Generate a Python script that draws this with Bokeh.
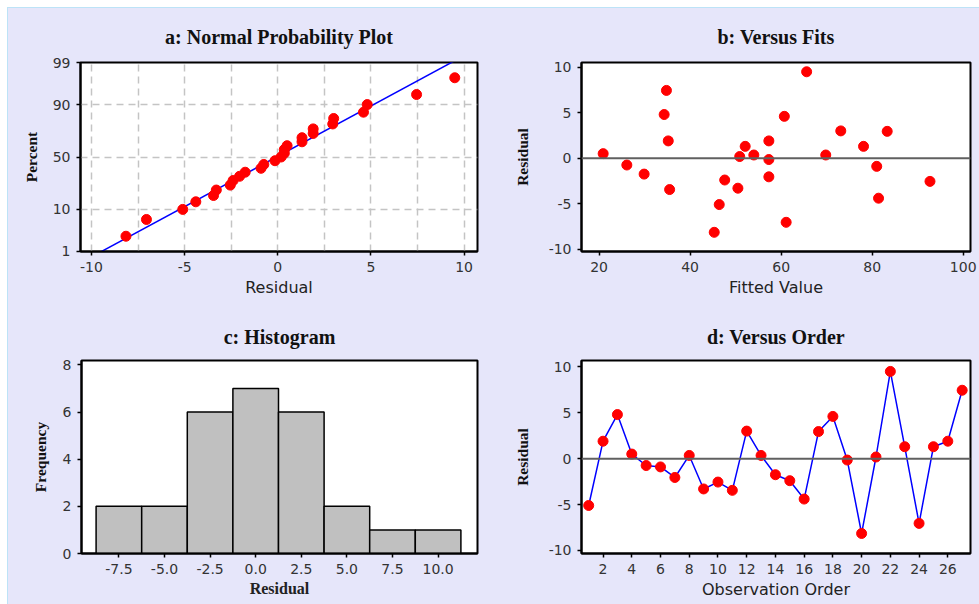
from statistics import NormalDist

from bokeh.plotting import figure
from bokeh.models import FixedTicker, Span, Range1d
from bokeh.layouts import column, row
from bokeh.embed import file_html
from bokeh.resources import INLINE

# ---------------- data ----------------
observation = list(range(1, 28))
residuals = [-5.1, 1.9, 4.8, 0.5, -0.75, -0.9, -2.05, 0.35, -3.3, -2.55,
             -3.45, 3.0, 0.35, -1.75, -2.4, -4.4, 2.95, 4.6, -0.15, -8.15,
             0.18, 9.5, 1.3, -7.05, 1.3, 1.9, 7.45]
fitted = [46.4, 35.2, 34.3, 20.9, 26.1, 81.0, 57.3, 54.0, 50.5, 92.7,
          35.5, 73.1, 69.8, 29.9, 47.6, 81.4, 83.3, 60.7, 57.3, 45.3,
          50.9, 65.6, 52.1, 61.1, 78.1, 57.3, 34.8]
hist_centers = [-7.5, -5.0, -2.5, 0.0, 2.5, 5.0, 7.5, 10.0]
hist_labels = ["-7.5", "-5.0", "-2.5", "0.0", "2.5", "5.0", "7.5", "10.0"]
hist_counts = [2, 2, 6, 7, 6, 2, 1, 1]
prob_tick_pct = [1, 10, 50, 90, 99]
prob_grid_pct = [10, 50, 90]
resid_ticks = [-10, -5, 0, 5, 10]
resid_labels = ["-10", "-5", "0", "5", "10"]
fit_ticks = [20, 40, 60, 80, 100]
order_ticks = [2, 4, 6, 8, 10, 12, 14, 16, 18, 20, 22, 24, 26]
npp_x_ticks = [-10, -5, 0, 5, 10]
npp_x_labels = ["-10", "-5", "0", "5", "10"]
npp_x_grid = [-10, -7.5, -5, -2.5, 0, 2.5, 5, 7.5, 10]
freq_ticks = [0, 2, 4, 6, 8]

BG = "#E6E6FA"
EDGE = "#BDE3F7"
SANS = "DejaVu Sans"
SERIF = "Liberation Serif"
nd = NormalDist()


def make_fig(width, height, left, right, top, bottom, title, xr, yr, title_standoff):
    p = figure(width=width, height=height, output_backend="svg",
               toolbar_location=None, x_range=Range1d(*xr), y_range=Range1d(*yr),
               min_border_left=left, min_border_right=right,
               min_border_top=top, min_border_bottom=bottom)
    p.border_fill_color = BG
    p.background_fill_color = "white"
    p.outline_line_color = "black"
    p.outline_line_width = 2
    p.title.text = title
    p.title.align = "center"
    p.title.text_font = SERIF
    p.title.text_font_style = "bold"
    p.title.text_font_size = "20px"
    p.title.text_color = "#111111"
    p.title.standoff = title_standoff
    p.grid.grid_line_color = None
    for ax in (p.xaxis[0], p.yaxis[0]):
        ax.axis_line_color = "black"
        ax.axis_line_width = 2
        ax.major_tick_line_color = "black"
        ax.major_tick_line_width = 1.5
        ax.major_tick_in = 0
        ax.major_tick_out = 4
        ax.minor_tick_line_color = None
        ax.major_label_text_font = SANS
        ax.major_label_text_font_size = "14px"
        ax.major_label_text_color = "#333333"
        ax.major_label_standoff = 6
    return p


def set_xlabel(p, text, serif, standoff=3):
    ax = p.xaxis[0]
    ax.axis_label = text
    ax.axis_label_standoff = standoff
    ax.axis_label_text_color = "#222222"
    if serif:
        ax.axis_label_text_font = SERIF
        ax.axis_label_text_font_style = "bold"
        ax.axis_label_text_font_size = "16px"
    else:
        ax.axis_label_text_font = SANS
        ax.axis_label_text_font_style = "normal"
        ax.axis_label_text_font_size = "16px"


def set_ylabel(p, text, standoff):
    ax = p.yaxis[0]
    ax.axis_label = text
    ax.axis_label_standoff = standoff
    ax.axis_label_text_color = "#111111"
    ax.axis_label_text_font = SERIF
    ax.axis_label_text_font_style = "bold"
    ax.axis_label_text_font_size = "15.5px"


def fixed_axis(ax, ticks, labels=None):
    ax.ticker = FixedTicker(ticks=ticks)
    if labels is not None:
        ax.major_label_overrides = {t: s for t, s in zip(ticks, labels)}


# ---------------- a: Normal probability plot ----------------
n = len(residuals)
sorted_res = sorted(residuals)
z_pts = [nd.inv_cdf((i + 1 - 0.3) / (n + 0.4)) for i in range(n)]
mean_r = sum(residuals) / n
sd_r = (sum((r - mean_r) ** 2 for r in residuals) / (n - 1)) ** 0.5
tick_z = [round(nd.inv_cdf(v / 100.0), 6) for v in prob_tick_pct]
line_z = [tick_z[0] - 0.3, tick_z[-1] + 0.3]
line_x = [mean_r + sd_r * z for z in line_z]

pa = make_fig(490, 296, 72, 21, 54, 53, "a: Normal Probability Plot",
              (-10.59, 10.72), (tick_z[0] - 1e-6, tick_z[-1] + 1e-6), 29)
fixed_axis(pa.yaxis[0], tick_z, [str(v) for v in prob_tick_pct])
fixed_axis(pa.xaxis[0], npp_x_ticks, npp_x_labels)
pa.xgrid[0].ticker = FixedTicker(ticks=npp_x_grid)
pa.ygrid[0].ticker = FixedTicker(ticks=[nd.inv_cdf(v / 100.0) for v in prob_grid_pct])
for g in (pa.xgrid[0], pa.ygrid[0]):
    g.grid_line_color = "#C4C4C4"
    g.grid_line_width = 1.5
    g.grid_line_dash = "7 5"
pa.line(line_x, line_z, line_color="#0000FF", line_width=1.5)
pa.scatter(sorted_res, z_pts, size=10, fill_color="#FF0000", line_color="#FF0000")
set_xlabel(pa, "Residual", serif=False)
set_ylabel(pa, "Percent", 10)

# ---------------- b: Versus fits ----------------
pb = make_fig(481, 296, 83, 9, 54, 53, "b: Versus Fits",
              (16.14, 101.6), (-10.26, 10.52), 29)
fixed_axis(pb.xaxis[0], fit_ticks)
fixed_axis(pb.yaxis[0], resid_ticks, resid_labels)
pb.add_layout(Span(location=0, dimension="width", line_color="#606060", line_width=2))
pb.scatter(fitted, residuals, size=10, fill_color="#FF0000", line_color="#FF0000")
set_xlabel(pb, "Fitted Value", serif=False)
set_ylabel(pb, "Residual", 15)

# ---------------- c: Histogram ----------------
pc = make_fig(490, 300, 73, 21, 55, 50, "c: Histogram",
              (-9.55, 12.16), (0, 8.19), 25)
fixed_axis(pc.xaxis[0], hist_centers, hist_labels)
fixed_axis(pc.yaxis[0], freq_ticks)
pc.vbar(x=hist_centers, width=2.5, top=hist_counts, bottom=0,
        fill_color="#C0C0C0", line_color="black", line_width=1.5)
set_xlabel(pc, "Residual", serif=True)
set_ylabel(pc, "Frequency", 11)

# ---------------- d: Versus order ----------------
pd_ = make_fig(481, 300, 83, 9, 56, 51, "d: Versus Order",
               (0.5, 27.58), (-10.33, 10.69), 25)
fixed_axis(pd_.xaxis[0], order_ticks)
fixed_axis(pd_.yaxis[0], resid_ticks, resid_labels)
pd_.add_layout(Span(location=0, dimension="width", line_color="#606060", line_width=2))
pd_.line(observation, residuals, line_color="#0000FF", line_width=1.5)
pd_.scatter(observation, residuals, size=10, fill_color="#FF0000", line_color="#FF0000")
set_xlabel(pd_, "Observation Order", serif=False)
set_ylabel(pd_, "Residual", 15)

top_row = row(pa, pb, styles={"background-color": BG})
bottom_row = row(pc, pd_, styles={"background-color": BG})
layout = column(top_row, bottom_row, margin=(7, 0, 0, 7),
                styles={"background-color": BG,
                        "border-top": "1px solid " + EDGE,
                        "border-left": "1px solid " + EDGE})
open("out.html", "w").write(file_html(layout, INLINE))
